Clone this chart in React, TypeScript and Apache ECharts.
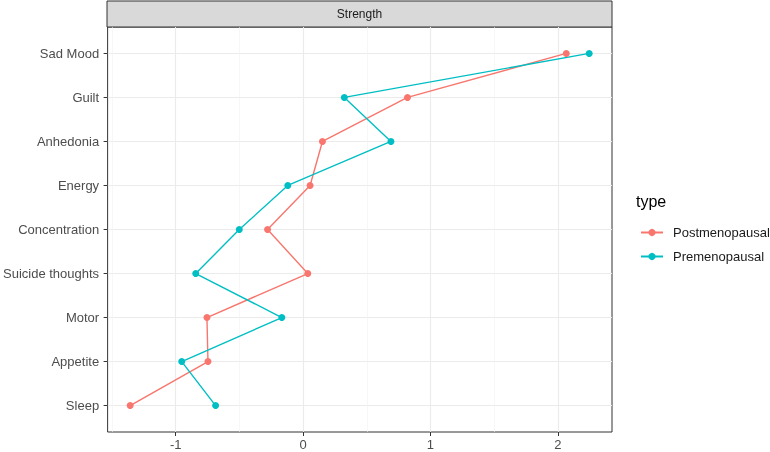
import React, { useEffect, useRef } from "react";
import * as echarts from "echarts";

const categories = ["Sad Mood", "Guilt", "Anhedonia", "Energy", "Concentration", "Suicide thoughts", "Motor", "Appetite", "Sleep"];
const postmenopausal = [2.067, 0.82, 0.152, 0.055, -0.279, 0.037, -0.755, -0.747, -1.358];
const premenopausal = [2.247, 0.324, 0.69, -0.12, -0.501, -0.843, -0.167, -0.953, -0.687];
const xTicks = [-1, 0, 1, 2];
const xMinor = [-1.5, -0.5, 0.5, 1.5];
const facetTitle = "Strength";
const legendTitle = "type";

const FONT = "Liberation Sans, Arial, sans-serif";

export default function App() {
  const ref = useRef<HTMLDivElement>(null);
  useEffect(() => {
    if (!ref.current) return;
    const chart = echarts.init(ref.current, null, { renderer: "svg" });
    const idx = categories.map((_, i) => i);
    const xMin = -1.535;
    const xMax = 2.426;
    const mk = (name: string, vals: number[], color: string) => ({
      name,
      type: "line",
      xAxisIndex: 0,
      yAxisIndex: 0,
      data: vals.map((v, i) => [v, i]),
      symbol: "circle",
      symbolSize: 7,
      lineStyle: { width: 1.4, color },
      itemStyle: { color },
      color,
      z: 5,
    });
    chart.setOption({
      animation: false,
      textStyle: { fontFamily: FONT },
      grid: { left: 107, right: 158, top: 27, bottom: 20, show: true, borderColor: "#333333", borderWidth: 1, backgroundColor: "#FFFFFF" },
      xAxis: [
        {
          type: "value",
          min: xMin,
          max: xMax,
          position: "bottom",
          axisLine: { show: false, onZero: false },
          axisTick: { show: true, length: 4, lineStyle: { color: "#333333" }, customValues: xTicks },
          axisLabel: { customValues: xTicks, color: "#4D4D4D", fontSize: 13, margin: 6, fontFamily: FONT, formatter: (v: number) => String(v) },
          splitLine: { show: true, lineStyle: { color: "#EBEBEB", width: 1.1 } },
        },
        {
          type: "value",
          min: xMin,
          max: xMax,
          position: "bottom",
          axisLine: { show: false, onZero: false },
          axisTick: { show: false, customValues: xMinor },
          axisLabel: { show: false, customValues: xMinor },
          splitLine: { show: true, lineStyle: { color: "#F2F2F2", width: 0.6 } },
        },
      ],
      yAxis: {
        type: "value",
        min: -0.6,
        max: categories.length - 1 + 0.6,
        inverse: true,
        position: "left",
        axisLine: { show: false, onZero: false },
        axisTick: { show: true, length: 4, lineStyle: { color: "#333333" }, customValues: idx },
        axisLabel: { customValues: idx, color: "#4D4D4D", fontSize: 13, margin: 8.5, fontFamily: FONT, formatter: (v: number) => categories[Math.round(v)] ?? "" },
        splitLine: { show: true, lineStyle: { color: "#EBEBEB", width: 1.1 } },
      },
      legend: {
        orient: "vertical",
        left: 635,
        top: 221,
        itemWidth: 22,
        itemHeight: 9,
        itemGap: 11,
        textStyle: { fontSize: 13, color: "#1A1A1A", fontFamily: FONT, padding: [0, 0, 0, 5] },
        data: ["Postmenopausal", "Premenopausal"],
      },
      graphic: [
        { type: "rect", shape: { x: 107, y: 1, width: 505, height: 26 }, style: { fill: "#D9D9D9", stroke: "#333333", lineWidth: 1 } },
        { type: "text", x: 359.5, y: 14, style: { text: facetTitle, fontSize: 12, fill: "#1A1A1A", fontFamily: FONT, align: "center", verticalAlign: "middle" } },
        { type: "text", x: 636, y: 201, style: { text: legendTitle, fontSize: 16, fill: "#000000", fontFamily: FONT, align: "left", verticalAlign: "middle" } },
      ],
      series: [mk("Postmenopausal", postmenopausal, "#F8766D"), mk("Premenopausal", premenopausal, "#00BFC4")],
    });
    return () => chart.dispose();
  }, []);
  return <div ref={ref} style={{ position: "fixed", left: 0, top: 0, width: 770, height: 452 }} />;
}
